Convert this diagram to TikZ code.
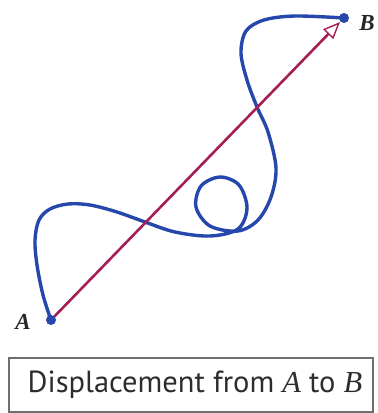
\documentclass[tikz,border=0pt]{standalone}
\usepackage{fontspec}
\setmainfont{Liberation Serif}
\setsansfont{PT Sans}
\usetikzlibrary{arrows.meta}
\definecolor{pathblue}{RGB}{38,72,172}
\definecolor{dispred}{RGB}{165,30,85}
\definecolor{boxgray}{RGB}{110,110,110}
\definecolor{txtgray}{RGB}{45,45,45}
\tikzset{
  dotpt/.style={circle,fill=pathblue,inner sep=0pt,minimum size=10pt},
  ptlabel/.style={font=\fontsize{23}{23}\selectfont\bfseries\itshape,text=black!85},
  pathline/.style={draw=pathblue,line width=3.4pt,line cap=round,line join=round},
  displine/.style={draw=dispred,line width=2.6pt,-{Triangle[open,length=17pt,width=14pt,line width=1.4pt,fill=white]}},
  captionbox/.style={draw=boxgray,line width=1.2pt,minimum width=364pt,minimum height=54pt,inner sep=0pt},
  captiontext/.style={text=txtgray,font=\sffamily\fontsize{30.5}{30.5}\selectfont,inner sep=0pt}
}
\begin{document}
\begin{tikzpicture}[x=1pt,y=-1pt]
\useasboundingbox (0,0) rectangle (378,413);
\coordinate (Apos) at (51,320);
\coordinate (Bpos) at (344,18);
\coordinate (tip) at (340,22);
\draw[pathline] plot[smooth,tension=0.55] coordinates {
 (51,320) (43,295) (37,265) (35,240) (39,220) (50,209) (68,204) (90,205) (117,212) (145,222)
 (175,232) (210,236) (238,229) (247,208) (239,185) (220,177) (201,186) (196,207) (210,226)
 (238,231) (258,220) (271,197) (276,168) (268,132) (257,107) (247,80) (241,53) (246,31)
 (264,20) (295,16) (344,18)};
\draw[displine] (Apos) -- (tip);
\node[dotpt] (A) at (Apos) {};
\node[dotpt] (B) at (Bpos) {};
\node[ptlabel] (Alab) at (23,322) {A};
\node[ptlabel] (Blab) at (367,23) {B};
\node[captionbox] (cap) at (191,385) {};
\node[captiontext] (captxt) at (195,385) {Displacement from {\rmfamily\itshape A} to {\rmfamily\itshape B}};
\end{tikzpicture}
\end{document}
